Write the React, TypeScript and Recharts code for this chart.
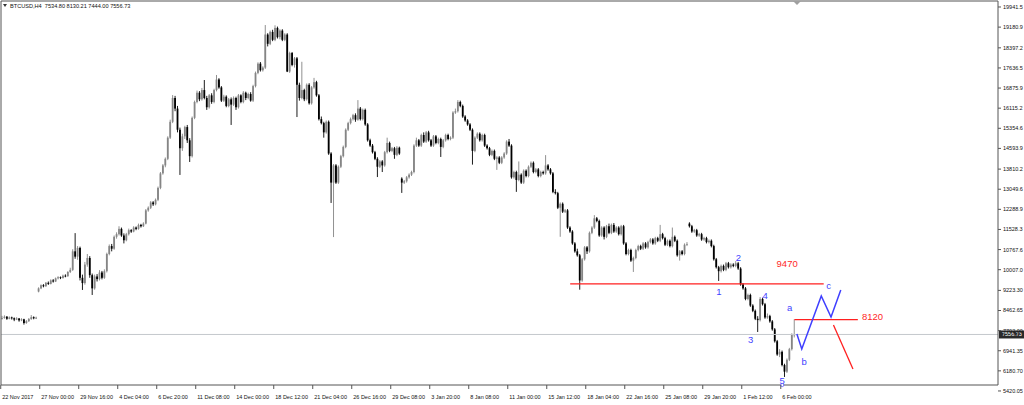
import { Bar, ComposedChart, Line, ReferenceDot, ReferenceLine, XAxis, YAxis } from "recharts"

// BTCUSD H4, 22 Nov 2017 -> 6 Feb 2018
const opens = [
  8150, 8180, 8230, 8150, 8200, 8170, 8120, 8160, 8090, 8130,
  7990, 8060, 8140, 8210, 8170, 9180, 9300, 9420, 9380, 9510,
  9470, 9600, 9560, 9680, 9720, 9690, 9780, 9760, 9920, 10000,
  10700, 10500, 10830, 9700, 9500, 10200, 10450, 9800, 9300, 9750,
  9650, 9900, 9700, 9950, 10600, 10900, 10800, 11250, 11350, 11550,
  11300, 11120, 11350, 11500, 11450, 11600, 11550, 11700, 11650, 11750,
  12250, 12350, 12550, 12480, 12650, 13100, 13650, 13950, 14200, 15000,
  15600, 16500, 16100, 15300, 14600, 15050, 15400, 14900, 14300, 15750,
  16350, 16700, 16450, 16800, 16500, 16150, 16600, 16350, 16800, 17200,
  16900, 16400, 16550, 16200, 16450, 16250, 16500, 16150, 16600, 16350,
  16700, 16500, 16650, 16400, 16950, 17450, 17800, 17550, 17650, 18900,
  18550, 19000, 18700, 19150, 18800, 19050, 18700, 18900, 17500, 18200,
  17750, 18000, 17000, 16500, 16800, 16450, 17000, 16300, 16900, 17100,
  16600, 15700, 15550, 15200, 15600, 14400, 13300, 13950, 13300, 13900,
  14300, 14650, 15300, 15550, 15700, 15850, 15680, 16100, 15700, 16050,
  15500, 14900, 14700, 14450, 14200, 13900, 14100, 13950, 14450, 14800,
  14500, 14600, 14350, 14620, 13450, 13300, 13350, 13500, 13600, 13700,
  14700, 14900, 14700, 15100, 14850, 15200, 14900, 14700, 15050, 14800,
  14950, 14650, 14900, 15100, 14950, 15000, 15950, 16000, 16350, 16200,
  15800, 15650, 15500, 15300, 14500, 15000, 15150, 14900, 15100, 14700,
  14600, 14350, 14500, 14200, 14250, 14050, 14250, 14400, 14850, 14700,
  13500, 13700, 13400, 13600, 13300, 13750, 13550, 13900, 14050, 13700,
  13800, 13550, 13700, 13650, 13950, 13800, 13650, 12950, 12900, 12350,
  12500, 12200, 12250, 11600, 11450, 11000, 10700, 10550, 9600, 10400,
  10850, 10700, 11400, 11600, 11950, 11850, 11300, 11600, 11250, 11650,
  11400, 11700, 11450, 11600, 11350, 11650, 11000, 10600, 10750, 10350,
  10450, 10750, 10900, 10800, 11000, 10850, 11050, 11150, 11000, 11200,
  11100, 11350, 11200, 10950, 11100, 10900, 11250, 11100, 10550, 10700,
  10600, 10950, 11750, 11650, 11450, 11500, 11300, 11350, 11150, 11200,
  11050, 11100, 10900, 10400, 10100, 9950, 10150, 10000, 10250, 10100,
  10200, 10150, 10250, 10050, 9450, 9300, 8900, 9050, 8650, 8450,
  8150, 8100, 8900, 8700, 8200, 8250, 8050, 7750, 7300, 6800,
  6900, 6400, 6150, 6600, 7000, 7534.8,
]

const highs = [
  8260, 8280, 8250, 8240, 8230, 8200, 8210, 8180, 8170, 8150,
  8100, 8180, 8290, 8240, 8230, 9340, 9450, 9460, 9540, 9560,
  9640, 9650, 9710, 9760, 9750, 9820, 9830, 9950, 10080, 10780,
  11390, 10900, 10880, 9820, 10300, 10600, 10520, 9860, 9820, 9840,
  9990, 9960, 10020, 10650, 10960, 10980, 11300, 11420, 11650, 11600,
  11380, 11400, 11560, 11540, 11650, 11640, 11750, 11740, 11800, 12300,
  12400, 12600, 12600, 12700, 13150, 13700, 14000, 14250, 15050, 15680,
  16610, 16580, 16200, 15380, 15150, 15450, 15480, 14980, 15800, 16400,
  16780, 16760, 16880, 17180, 16580, 16650, 16680, 16850, 17370, 17250,
  16950, 16620, 16600, 16500, 16520, 16560, 16550, 16650, 16640, 16760,
  16740, 16700, 16720, 17000, 17500, 17850, 17860, 17700, 19260, 18950,
  19050, 19080, 19250, 19200, 19100, 19100, 18950, 18950, 18250, 18240,
  18050, 18050, 17080, 17870, 16850, 17050, 17060, 16950, 17260, 17150,
  16650, 15800, 15600, 15650, 15650, 14450, 14000, 14000, 13950, 14350,
  14700, 15350, 15600, 15760, 15900, 15920, 16420, 16160, 16100, 16100,
  15550, 14960, 14760, 14500, 14260, 14150, 14150, 14500, 15000, 14850,
  14650, 14650, 14680, 14660, 13500, 13400, 13550, 13650, 13750, 14750,
  15000, 14950, 15150, 15200, 15250, 15260, 14950, 15100, 15100, 15000,
  15000, 14950, 15150, 15150, 15050, 16000, 16100, 16420, 16400, 16250,
  15850, 15700, 15550, 15350, 15050, 15200, 15200, 15150, 15150, 14750,
  14650, 14550, 14550, 14300, 14300, 14300, 14450, 14900, 14950, 14750,
  13750, 13750, 14100, 13650, 13800, 13800, 13950, 14100, 14100, 13850,
  13850, 13750, 13750, 14340, 14000, 13850, 13700, 13050, 12950, 12550,
  12550, 12300, 12300, 11650, 11500, 11050, 10800, 10600, 10450, 10900,
  10900, 11450, 11650, 12070, 12000, 11900, 11650, 11650, 11700, 11750,
  11750, 11770, 11650, 11650, 11700, 11700, 11050, 10800, 10800, 10500,
  10800, 10950, 10950, 11050, 11050, 11100, 11200, 11200, 11250, 11250,
  11700, 11400, 11250, 11150, 11150, 11600, 11300, 11150, 10750, 10750,
  11000, 11050, 11800, 11700, 11550, 11550, 11400, 11400, 11250, 11250,
  11150, 11150, 10950, 10450, 10150, 10200, 10200, 10300, 10300, 10250,
  10250, 10330, 10300, 10100, 9500, 9350, 9100, 9100, 8700, 8500,
  8250, 8970, 8950, 8750, 8350, 8300, 8100, 7800, 7350, 7000,
  6950, 6450, 6650, 7050, 7600, 8130.21,
]

const lows = [
  8120, 8150, 8110, 8130, 8120, 8060, 8100, 8040, 8060, 7930,
  7960, 8030, 8110, 8130, 8140, 9150, 9270, 9340, 9360, 9430,
  9450, 9520, 9540, 9640, 9650, 9670, 9720, 9740, 9880, 9960,
  10420, 10380, 9600, 9240, 9440, 10120, 9700, 9050, 9250, 9560,
  9600, 9640, 9660, 9900, 10550, 10700, 10760, 11180, 11300, 11250,
  11000, 11080, 11300, 11400, 11420, 11500, 11520, 11600, 11620, 11720,
  12200, 12300, 12420, 12440, 12600, 13050, 13600, 13880, 14150, 14950,
  15550, 16000, 15200, 13590, 14500, 14950, 14800, 14080, 14250, 15700,
  16300, 16380, 16400, 16450, 16050, 16100, 16280, 16300, 16750, 16850,
  16350, 16350, 16150, 16150, 15480, 16200, 16050, 16100, 16300, 16300,
  16420, 16450, 16360, 16350, 16900, 17400, 17500, 17500, 17600, 18450,
  18500, 18650, 18650, 18750, 18720, 18650, 18650, 17480, 17450, 17700,
  17650, 15780, 16400, 16450, 16380, 16400, 16250, 16250, 16850, 16550,
  15650, 15500, 15000, 15150, 14350, 12530, 11240, 13250, 13250, 13850,
  14250, 14600, 15250, 15500, 15650, 15600, 15640, 15650, 15650, 15450,
  14850, 14650, 14400, 14150, 13510, 13850, 13700, 13900, 14400, 14450,
  14450, 14200, 14300, 14350, 12910, 13250, 13300, 13450, 13550, 13650,
  14650, 14650, 14650, 14800, 14800, 14850, 14650, 14650, 14750, 14750,
  14270, 14600, 14850, 14900, 14900, 14950, 15900, 15950, 16150, 15750,
  15600, 15450, 15250, 13980, 14450, 14950, 14850, 14850, 14650, 14550,
  14300, 14300, 14150, 13780, 14000, 14000, 14200, 14350, 14650, 13450,
  13450, 12950, 13350, 13250, 13250, 13500, 13500, 13850, 13650, 13650,
  13500, 13500, 13600, 13600, 13750, 13600, 12900, 12850, 12300, 11250,
  12150, 12150, 11550, 11400, 10950, 10650, 10500, 9250, 9550, 10350,
  10600, 10650, 11350, 11550, 11800, 11250, 11250, 11150, 11200, 11350,
  11350, 11400, 11400, 11300, 11300, 10950, 10550, 10550, 10300, 9920,
  10400, 10700, 10750, 10750, 10800, 10800, 11000, 10950, 10950, 11050,
  11050, 11150, 10900, 10900, 10850, 10850, 11050, 10500, 10350, 10550,
  10550, 10900, 11600, 11400, 11400, 11250, 11250, 11100, 11100, 11000,
  11000, 10850, 10350, 10050, 9580, 9900, 9950, 9950, 10050, 10050,
  10100, 10100, 10000, 9400, 9250, 8850, 8850, 8600, 8400, 8100,
  7650, 8050, 8650, 8150, 8150, 8000, 7700, 7250, 6750, 6700,
  6350, 5950, 6100, 6550, 6950, 7444,
]

const closes = [
  8180, 8230, 8150, 8200, 8170, 8120, 8160, 8090, 8130, 7990,
  8060, 8140, 8210, 8170, 8190, 9300, 9420, 9380, 9510, 9470,
  9600, 9560, 9680, 9720, 9690, 9780, 9760, 9920, 10000, 10700,
  10500, 10830, 9700, 9500, 10200, 10450, 9800, 9300, 9750, 9650,
  9900, 9700, 9950, 10600, 10900, 10800, 11250, 11350, 11550, 11300,
  11120, 11350, 11500, 11450, 11600, 11550, 11700, 11650, 11750, 12250,
  12350, 12550, 12480, 12650, 13100, 13650, 13950, 14200, 15000, 15600,
  16500, 16100, 15300, 14600, 15050, 15400, 14900, 14300, 15750, 16350,
  16700, 16450, 16800, 16500, 16150, 16600, 16350, 16800, 17200, 16900,
  16400, 16550, 16200, 16450, 16250, 16500, 16150, 16600, 16350, 16700,
  16500, 16650, 16400, 16950, 17450, 17800, 17550, 17650, 18900, 18550,
  19000, 18700, 19150, 18800, 19050, 18700, 18900, 17500, 18200, 17750,
  18000, 17000, 16500, 16800, 16450, 17000, 16300, 16900, 17100, 16600,
  15700, 15550, 15200, 15600, 14400, 13300, 13950, 13300, 13900, 14300,
  14650, 15300, 15550, 15700, 15850, 15680, 16100, 15700, 16050, 15500,
  14900, 14700, 14450, 14200, 13900, 14100, 13950, 14450, 14800, 14500,
  14600, 14350, 14620, 14400, 13300, 13350, 13500, 13600, 13700, 14700,
  14900, 14700, 15100, 14850, 15200, 14900, 14700, 15050, 14800, 14950,
  14650, 14900, 15100, 14950, 15000, 15950, 16000, 16350, 16200, 15800,
  15650, 15500, 15300, 14500, 15000, 15150, 14900, 15100, 14700, 14600,
  14350, 14500, 14200, 14250, 14050, 14250, 14400, 14850, 14700, 13500,
  13700, 13400, 13600, 13300, 13750, 13550, 13900, 14050, 13700, 13800,
  13550, 13700, 13650, 13950, 13800, 13650, 12950, 12900, 12350, 12500,
  12200, 12250, 11600, 11450, 11000, 10700, 10550, 9600, 10400, 10850,
  10700, 11400, 11600, 11950, 11850, 11300, 11600, 11250, 11650, 11400,
  11700, 11450, 11600, 11350, 11650, 11000, 10600, 10750, 10350, 10450,
  10750, 10900, 10800, 11000, 10850, 11050, 11150, 11000, 11200, 11100,
  11350, 11200, 10950, 11100, 10900, 11250, 11100, 10550, 10700, 10600,
  10950, 10980, 11650, 11450, 11500, 11300, 11350, 11150, 11200, 11050,
  11100, 10900, 10400, 10100, 9950, 10150, 10000, 10250, 10100, 10200,
  10150, 10250, 10050, 9450, 9300, 8900, 9050, 8650, 8450, 8150,
  8100, 8900, 8700, 8200, 8250, 8050, 7750, 7300, 6800, 6900,
  6400, 6150, 6600, 7000, 7534.8, 7556.73,
]

const totalSlots = 409 // bars plus the empty space MT4 leaves on the right

const dateTickBars = [0, 16, 32, 48, 64, 80, 96, 112, 128, 144, 160, 176, 192, 208, 224, 240, 256, 272, 288, 304, 320]
const dateLabels = [
  "22 Nov 2017", "27 Nov 00:00", "29 Nov 16:00", "4 Dec 04:00", "6 Dec 20:00", "11 Dec 08:00",
  "14 Dec 00:00", "18 Dec 12:00", "21 Dec 04:00", "26 Dec 16:00", "29 Dec 08:00", "3 Jan 20:00",
  "8 Jan 08:00", "11 Jan 00:00", "15 Jan 12:00", "18 Jan 04:00", "22 Jan 16:00", "25 Jan 08:00",
  "29 Jan 20:00", "1 Feb 12:00", "6 Feb 00:00",
]

const priceTicks = [
  19941.5, 19180.9, 18397.2, 17636.5, 16875.9, 16115.2, 15354.6, 14593.9, 13810.2, 13049.6,
  12288.9, 11528.3, 10767.6, 10007.0, 9223.3, 8462.65, 7702.0, 6941.35, 6180.7, 5420.05,
]
const priceLabels = [
  "19941.5", "19180.9", "18397.2", "17636.5", "16875.9", "16115.2", "15354.6", "14593.9", "13810.2", "13049.6",
  "12288.9", "11528.3", "10767.6", "10007.0", "9223.30", "8462.65", "7702.00", "6941.35", "6180.70", "5420.05",
]

const lastPrice = 7556.73
const title = "BTCUSD,H4  7534.80 8130.21 7444.00 7556.73"

// analyst drawings
const waveTexts = ["1", "2", "3", "4", "5", "a", "b", "c"]
const waveBars = [294, 302, 307, 313, 320, 323, 329, 339]
const wavePrices = [9163, 10449, 7385, 9012, 5800, 8558, 6516, 9427]

const zigzagBars = [326, 328, 336, 340, 344]
const zigzagPrices = [7574, 7007, 9011, 8217, 9238]
const dropBars = [341, 349]
const dropPrices = [7915, 6251]

const levelPrices = [9470, 8120]
const levelStart = [233, 325]
const levelEnd = [337, 351]
const levelTextBars = [322, 357]
const levelTextPrices = [10222, 8255]

const rows = Array.from({ length: totalSlots }, (_, i) => {
  const zi = zigzagBars.indexOf(i)
  const di = dropBars.indexOf(i)
  return {
    i,
    range: i < closes.length ? [lows[i], highs[i]] : null,
    o: opens[i],
    h: highs[i],
    l: lows[i],
    c: closes[i],
    wave: zi >= 0 ? zigzagPrices[zi] : null,
    drop: di >= 0 ? dropPrices[di] : null,
  }
})

const axisFont = "Liberation Sans, Arial, sans-serif"
const blue = "#3f3fff"
const red = "#ff1f1f"

function Candle(props: any) {
  const { x, y, width, height, payload } = props
  if (!payload || payload.c == null) return null
  const { o, h, l, c } = payload
  const top = Math.min(y, y + height)
  const k = Math.abs(height) / (h - l || 1)
  const py = (p: number) => top + (h - p) * k
  const cx = x + width / 2
  const color = c >= o ? "#858585" : "#000"
  const bTop = py(Math.max(o, c))
  const bBot = py(Math.min(o, c))
  return (
    <g>
      <line x1={cx} x2={cx} y1={py(h)} y2={py(l)} stroke={color} strokeWidth={0.9} />
      <rect x={cx - 0.9} y={bTop} width={1.8} height={Math.max(bBot - bTop, 0.8)} fill={color} />
    </g>
  )
}

function DateTick(props: any) {
  const { x, y, payload } = props
  const idx = dateTickBars.indexOf(payload.value)
  return (
    <g>
      <line x1={x - 1.5} x2={x - 1.5} y1={y} y2={y + 4} stroke="#555" />
      <text x={x} y={y + 14} fontSize={5.5} fontFamily={axisFont} fill="#111">
        {dateLabels[idx]}
      </text>
    </g>
  )
}

function PriceTag(props: any) {
  const { viewBox } = props
  if (!viewBox) return null
  const x = viewBox.x + viewBox.width
  const y = viewBox.y
  return (
    <g>
      <rect x={x + 1} y={y - 4} width={25} height={8} fill="#2a2a2a" />
      <text x={x + 4} y={y} dy="0.35em" fontSize={5.5} fontFamily={axisFont} fill="#fff">
        {lastPrice.toFixed(2)}
      </text>
    </g>
  )
}

const textShape = (text: string, color: string, size: number) => (p: any) => (
  <text x={p.cx} y={p.cy} textAnchor="middle" dominantBaseline="central" fill={color} fontSize={size} fontFamily={axisFont}>
    {text}
  </text>
)

export default function App() {
  return (
    <div style={{ position: "absolute", left: 0, top: 0, width: 1024, height: 405, background: "#fff" }}>
      <ComposedChart
        width={1024}
        height={405}
        data={rows}
        margin={{ top: 0, right: 0, bottom: 0, left: 0 }}
        barCategoryGap={0}
        barGap={0}
      >
        <XAxis
          dataKey="i"
          type="category"
          height={20}
          ticks={dateTickBars}
          interval={0}
          tick={<DateTick />}
          tickLine={false}
          tickSize={0}
          tickMargin={0}
          axisLine={{ stroke: "#555" }}
        />
        <XAxis xAxisId="top" dataKey="i" orientation="top" height={1} tick={false} tickLine={false} axisLine={{ stroke: "#555" }} />
        <YAxis
          orientation="right"
          width={26}
          type="number"
          domain={[5645.5, 20168.4]}
          allowDataOverflow
          ticks={priceTicks}
          interval={0}
          tickSize={3}
          tickMargin={2}
          tickLine={{ stroke: "#555" }}
          axisLine={{ stroke: "#555" }}
          tick={{ fontSize: 5.5, fill: "#111", fontFamily: axisFont }}
          tickFormatter={(v: number) => priceLabels[priceTicks.indexOf(v)] ?? String(v)}
        />
        <YAxis yAxisId="left" orientation="left" width={1} domain={[0, 1]} tick={false} tickLine={false} axisLine={{ stroke: "#555" }} />

        <ReferenceLine y={lastPrice} stroke="#c4c8cc" strokeWidth={1} label={<PriceTag />} />

        <Bar dataKey="range" shape={(p: any) => <Candle {...p} />} isAnimationActive={false} />

        {levelPrices.map((p, k) => (
          <ReferenceLine
            key={`lvl-${k}`}
            segment={[{ x: levelStart[k], y: p }, { x: levelEnd[k], y: p }]}
            stroke={red}
            strokeWidth={1.3}
          />
        ))}
        {levelPrices.map((p, k) => (
          <ReferenceDot
            key={`lvt-${k}`}
            x={levelTextBars[k]}
            y={levelTextPrices[k]}
            r={1}
            shape={textShape(String(p), red, 9.5)}
          />
        ))}

        <Line dataKey="wave" stroke={blue} strokeWidth={1.5} dot={false} connectNulls isAnimationActive={false} />
        <Line dataKey="drop" stroke={red} strokeWidth={1.3} dot={false} connectNulls isAnimationActive={false} />

        {waveTexts.map((t, k) => (
          <ReferenceDot key={`w-${k}`} x={waveBars[k]} y={wavePrices[k]} r={1} shape={textShape(t, blue, 9.5)} />
        ))}

        <ReferenceDot x={320} y={5645.5} r={1.6} fill="#fff" stroke="#5a5aff" strokeWidth={0.8} ifOverflow="visible" />
      </ComposedChart>

      <svg style={{ position: "absolute", left: 0, top: 0 }} width={1024} height={14}>
        <polygon points="3,4 7,4 5,7" fill="#333" />
        <text x={10} y={8} fontSize={5.6} fontFamily={axisFont} fill="#111" style={{ whiteSpace: "pre" }}>
          {title}
        </text>
        <polygon points="793,1 801,1 797,5" fill="#a0a0a0" />
      </svg>
    </div>
  )
}
